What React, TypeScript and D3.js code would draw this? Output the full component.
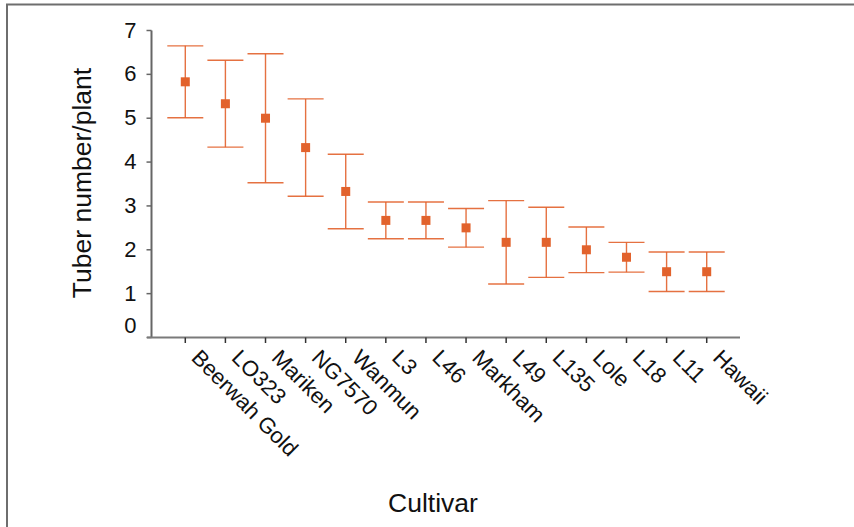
import React from "react";
import * as d3 from "d3";

// Cultivars and tuber counts (mean ± standard error)
const cultivars = [
  "Beerwah Gold", "LO323", "Mariken", "NG7570", "Wanmun", "L3", "L46",
  "Markham", "L49", "L135", "Lole", "L18", "L11", "Hawaii",
];
const means = [5.83, 5.33, 5.0, 4.33, 3.33, 2.67, 2.67, 2.5, 2.17, 2.17, 2.0, 1.83, 1.5, 1.5];
const errors = [0.82, 0.99, 1.47, 1.11, 0.85, 0.42, 0.42, 0.44, 0.95, 0.8, 0.52, 0.34, 0.45, 0.45];
const yTicks = [0, 1, 2, 3, 4, 5, 6, 7];

const W = 854;
const H = 527;
const FONT = "'Liberation Sans', Arial, Helvetica, sans-serif";
const ORANGE = "#e2622c";
const AXIS = "#666666";

export default function App() {
  const x = d3.scalePoint<string>().domain(cultivars).range([152, 740]).padding(0.83);
  const y = d3.scaleLinear().domain([0, 7]).range([337.5, 30.5]);
  const capHalf = 18;
  const marker = 9;

  return (
    <svg
      width={W}
      height={H}
      style={{ position: "absolute", left: 0, top: 0, background: "#fff" }}
      fontFamily={FONT}
    >
      {/* outer frame */}
      <rect x={7} y={4.5} width={W + 20} height={H + 20} fill="none" stroke="#6e6e6e" strokeWidth={2} />

      {/* y axis */}
      <line x1={151.5} x2={151.5} y1={y(7)} y2={y(0)} stroke={AXIS} strokeWidth={2} />
      {yTicks.map((t) => (
        <g key={t}>
          <line x1={146.5} x2={151.5} y1={y(t)} y2={y(t)} stroke={AXIS} strokeWidth={1.5} />
          <text
            x={136.5}
            y={y(t) + (t === 0 ? -4.5 : 7)}
            textAnchor="end"
            fontSize={22}
            fill="#111"
          >
            {t}
          </text>
        </g>
      ))}

      {/* x axis */}
      <line x1={147} x2={740} y1={y(0)} y2={y(0)} stroke="#7a7a7a" strokeWidth={2} />
      {cultivars.map((c) => {
        const cx = x(c)!;
        return (
          <g key={c}>
            <line x1={cx} x2={cx} y1={y(0)} y2={y(0) + 5.5} stroke="#333" strokeWidth={1.5} />
            <text
              transform={`translate(${cx + 5},${359}) rotate(45)`}
              fontSize={22}
              fill="#111"
            >
              {c}
            </text>
          </g>
        );
      })}

      {/* error bars and means */}
      {cultivars.map((c, i) => {
        const cx = x(c)!;
        const top = y(means[i] + errors[i]);
        const bot = y(means[i] - errors[i]);
        const cy = y(means[i]);
        return (
          <g key={`e-${c}`} stroke={ORANGE} strokeWidth={1.4} strokeOpacity={0.9}>
            <line x1={cx} x2={cx} y1={top} y2={bot} />
            <line x1={cx - capHalf} x2={cx + capHalf} y1={top} y2={top} />
            <line x1={cx - capHalf} x2={cx + capHalf} y1={bot} y2={bot} />
            <rect
              x={cx - marker / 2}
              y={cy - marker / 2}
              width={marker}
              height={marker}
              fill={ORANGE}
              stroke="none"
            />
          </g>
        );
      })}

      {/* axis titles */}
      <text
        transform={`translate(91,183) rotate(-90)`}
        textAnchor="middle"
        fontSize={26.5}
        fill="#111"
      >
        Tuber number/plant
      </text>
      <text x={433} y={511.5} textAnchor="middle" fontSize={26.5} fill="#111">
        Cultivar
      </text>
    </svg>
  );
}
